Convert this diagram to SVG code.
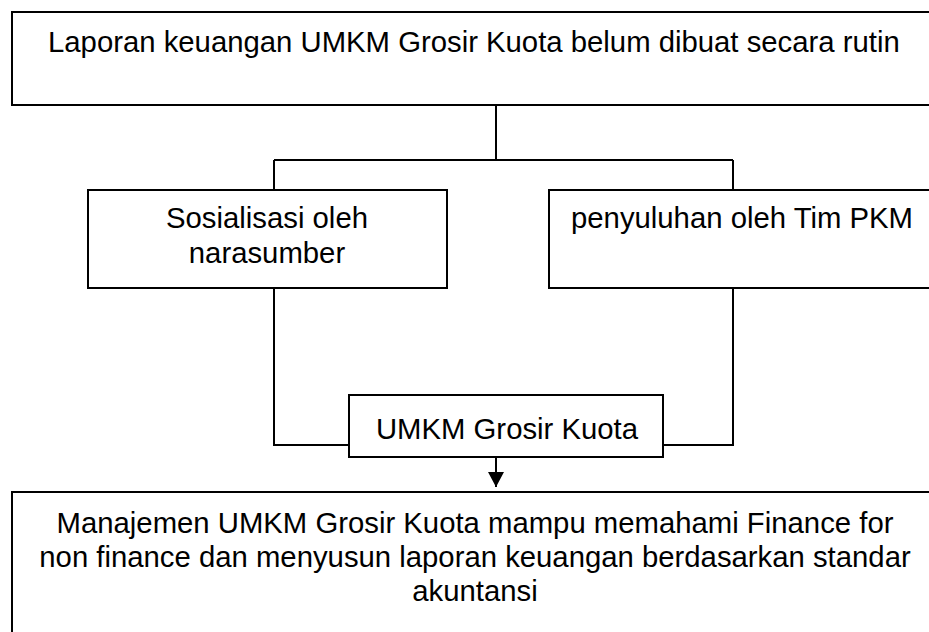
<svg xmlns="http://www.w3.org/2000/svg" width="929" height="632" viewBox="0 0 929 632">
<style>
.box{fill:#fff;stroke:#000;stroke-width:2}
.line{fill:none;stroke:#000;stroke-width:2}
text{font-family:"Liberation Sans",Arial,sans-serif;font-size:29.3px;fill:#000}
</style>
<defs>
<marker id="arr" markerWidth="16" markerHeight="16" refX="15" refY="8" orient="auto" markerUnits="userSpaceOnUse">
<path d="M0,0 L15,8 L0,16 z" fill="#000"/>
</marker>
</defs>
<rect width="929" height="632" fill="#fff"/>
<g id="connectors">
<path class="line" d="M496,105 V160"/>
<path class="line" d="M274,160 H733"/>
<path class="line" d="M274,160 V190"/>
<path class="line" d="M733,160 V190"/>
<path class="line" d="M274,288 V445 H354"/>
<path class="line" d="M733,288 V445 H653"/>
<path class="line" d="M496,458 V487" marker-end="url(#arr)"/>
</g>
<g id="node-top">
<rect class="box" x="12" y="12" width="930" height="93"/>
<text x="48" y="52">Laporan keuangan UMKM Grosir Kuota belum dibuat secara rutin</text>
</g>
<g id="node-sosialisasi">
<rect class="box" x="88" y="190" width="359" height="98"/>
<text x="267" y="228" text-anchor="middle">Sosialisasi oleh</text>
<text x="267" y="263" text-anchor="middle">narasumber</text>
</g>
<g id="node-penyuluhan">
<rect class="box" x="549" y="190" width="400" height="98"/>
<text x="571" y="228">penyuluhan oleh Tim PKM</text>
</g>
<g id="node-umkm">
<rect class="box" x="349" y="395" width="314" height="62"/>
<text x="507" y="439" text-anchor="middle">UMKM Grosir Kuota</text>
</g>
<g id="node-result">
<rect class="box" x="12" y="492" width="930" height="160"/>
<text x="475" y="533" text-anchor="middle">Manajemen UMKM Grosir Kuota mampu memahami Finance for</text>
<text x="475" y="567" text-anchor="middle">non finance dan menyusun laporan keuangan berdasarkan standar</text>
<text x="475" y="601" text-anchor="middle">akuntansi</text>
</g>
</svg>
